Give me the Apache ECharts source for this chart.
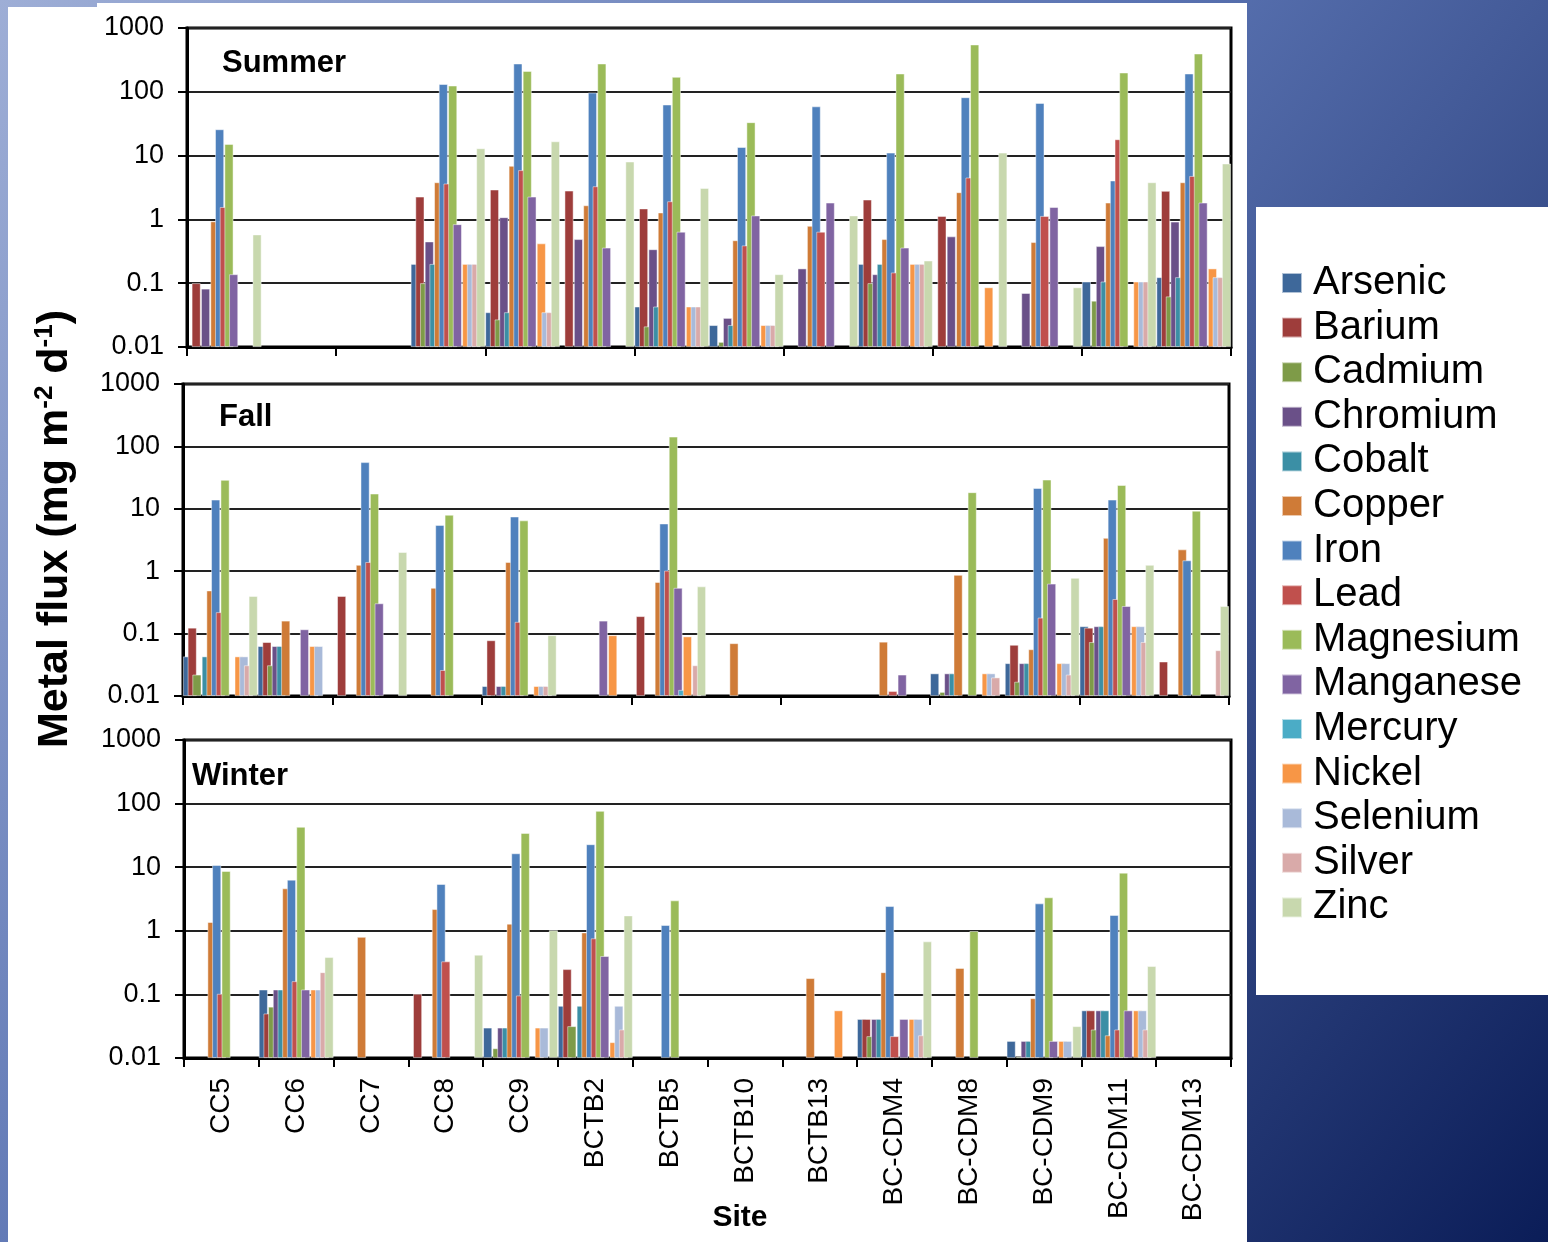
<!DOCTYPE html>
<html>
<head>
<meta charset="utf-8">
<script src="https://cdn.jsdelivr.net/npm/echarts@6/dist/echarts.min.js"></script>
<style>
  html, body { margin: 0; padding: 0; }
  #chart { width: 1548px; height: 1242px; }
</style>
</head>
<body>
<div id="chart"></div>
<script>
const n = null;

const sites = ['CC5', 'CC6', 'CC7', 'CC8', 'CC9', 'BCTB2', 'BCTB5', 'BCTB10', 'BCTB13',
  'BC-CDM4', 'BC-CDM8', 'BC-CDM9', 'BC-CDM11', 'BC-CDM13'];
const metals = ['Arsenic', 'Barium', 'Cadmium', 'Chromium', 'Cobalt', 'Copper', 'Iron', 'Lead',
  'Magnesium', 'Manganese', 'Mercury', 'Nickel', 'Selenium', 'Silver', 'Zinc'];
const yTicks = [0.01, 0.1, 1, 10, 100, 1000];

// Summer flux, mg m-2 d-1, one value per site (null = not detected)
const arsenicSummer   = [n, n, n, 0.2, 0.035, n, 0.043, 0.022, n, 0.2, n, n, 0.106, 0.124];
const bariumSummer    = [0.1, n, n, 2.27, 2.93, 2.82, 1.48, n, n, 2.04, 1.13, n, n, 2.79];
const cadmiumSummer   = [n, n, n, 0.1, 0.027, n, 0.021, 0.012, n, 0.1, n, n, 0.053, 0.062];
const chromiumSummer  = [0.082, n, n, 0.45, 1.08, 0.49, 0.34, 0.0285, 0.17, 0.138, 0.54, 0.07, 0.38, 0.92];
const cobaltSummer    = [n, n, n, 0.2, 0.035, n, 0.043, 0.022, n, 0.2, n, n, 0.106, 0.124];
const copperSummer    = [0.93, n, n, 3.81, 6.9, 1.66, 1.28, 0.47, 0.79, 0.49, 2.66, 0.44, 1.83, 3.81];
const ironSummer      = [25.8, n, n, 132, 277, 97, 63, 13.6, 59, 11.1, 82, 66.7, 4.06, 193];
const leadSummer      = [1.56, n, n, 3.64, 5.9, 3.3, 1.92, 0.39, 0.64, 0.147, 4.52, 1.13, 18, 4.78];
const magnesiumSummer = [15.2, n, n, 125, 212, 277, 171, 33.3, n, 193, 550, n, 200, 397];
const manganeseSummer = [0.138, n, n, 0.84, 2.27, 0.36, 0.64, 1.15, 1.83, 0.36, n, 1.56, n, 1.83];
const mercurySummer   = [n, n, n, n, n, n, n, n, n, n, n, n, n, n];
const nickelSummer    = [n, n, n, 0.2, 0.42, n, 0.043, 0.022, n, 0.2, 0.086, n, 0.106, 0.17];
const seleniumSummer  = [n, n, n, 0.2, 0.035, n, 0.043, 0.022, n, 0.2, n, n, 0.106, 0.124];
const silverSummer    = [n, n, n, 0.2, 0.035, n, 0.043, 0.022, n, 0.2, n, n, 0.106, 0.124];
const zincSummer      = [0.58, n, n, 13, 16.7, 8.05, 3.1, 0.138, 1.15, 0.226, 11.1, 0.086, 3.81, 7.5];

// Fall flux
const arsenicFall   = [0.043, 0.063, n, n, 0.0144, n, n, n, n, n, 0.023, 0.0335, 0.131, n];
const bariumFall    = [0.124, 0.073, 0.4, n, 0.078, n, 0.19, n, n, n, n, 0.066, 0.124, 0.0356];
const cadmiumFall   = [0.022, 0.031, n, n, n, n, n, n, n, n, 0.0116, 0.0169, 0.073, n];
const chromiumFall  = [n, 0.063, n, n, 0.0144, n, n, n, n, n, 0.023, 0.0335, 0.131, n];
const cobaltFall    = [0.043, 0.063, n, n, 0.0144, n, n, n, n, n, 0.023, 0.0335, 0.131, n];
const copperFall    = [0.49, 0.161, 1.26, 0.54, 1.4, n, 0.67, 0.07, n, 0.074, 0.87, 0.056, 3.41, 2.23];
const ironFall      = [14, n, 55.8, 5.5, 7.5, n, 5.8, n, n, n, n, 21.5, 14, 1.49];
const leadFall      = [0.22, n, 1.4, 0.026, 0.154, n, 1.02, n, n, 0.012, n, 0.18, 0.357, n];
const magnesiumFall = [29, n, 17.5, 8.0, 6.5, n, 143, n, n, n, 18.4, 29.3, 24, 9.3];
const manganeseFall = [n, 0.117, 0.305, n, n, 0.161, 0.54, n, n, 0.022, n, 0.63, 0.276, n];
const mercuryFall   = [n, n, n, n, n, n, 0.0125, n, n, n, n, n, n, n];
const nickelFall    = [0.043, 0.063, n, n, 0.0144, 0.094, 0.09, n, n, n, 0.023, 0.0335, 0.131, n];
const seleniumFall  = [0.043, 0.063, n, n, 0.0144, n, n, n, n, n, 0.023, 0.0335, 0.131, n];
const silverFall    = [0.031, n, n, n, 0.0144, n, 0.031, n, n, n, 0.0198, 0.022, 0.073, 0.054];
const zincFall      = [0.4, n, 2.02, n, 0.094, n, 0.57, n, n, n, n, 0.78, 1.26, 0.276];

// Winter flux
const arsenicWinter   = [n, 0.119, n, n, 0.03, 0.066, n, n, n, 0.041, n, 0.0185, 0.056, n];
const bariumWinter    = [n, 0.05, n, 0.102, n, 0.249, n, n, n, 0.041, n, n, 0.056, n];
const cadmiumWinter   = [n, 0.064, n, n, 0.0142, 0.0316, n, n, n, 0.022, n, 0.0105, 0.028, n];
const chromiumWinter  = [n, 0.119, n, n, 0.03, n, n, n, n, 0.041, n, 0.0185, 0.056, n];
const cobaltWinter    = [n, 0.119, n, n, 0.03, 0.066, n, n, n, 0.041, n, 0.0185, 0.056, n];
const copperWinter    = [1.37, 4.64, 0.8, 2.19, 1.29, 0.94, n, n, 0.18, 0.223, 0.26, 0.087, 0.0227, n];
const ironWinter      = [10.8, 6.35, n, 5.43, 16.5, 22.9, 1.23, n, n, 2.44, n, 2.69, 1.77, n];
const leadWinter      = [0.102, 0.161, n, 0.33, 0.096, 0.76, n, n, n, 0.022, n, n, 0.028, n];
const magnesiumWinter = [8.7, 43, n, n, 34.5, 76.6, 3.0, n, n, n, 0.99, 3.35, 8.18, n];
const manganeseWinter = [n, 0.119, n, n, n, 0.4, n, n, n, 0.041, n, 0.0185, 0.056, n];
const mercuryWinter   = [n, n, n, n, n, n, n, n, n, n, n, n, n, n];
const nickelWinter    = [n, 0.119, n, n, 0.03, 0.0177, n, n, 0.056, 0.041, n, 0.0185, 0.056, n];
const seleniumWinter  = [n, 0.119, n, n, 0.03, 0.066, n, n, n, 0.041, n, 0.0185, 0.056, n];
const silverWinter    = [n, 0.223, n, n, n, 0.028, n, n, n, 0.0227, n, n, 0.028, n];
const zincWinter      = [n, 0.385, n, 0.42, 1.02, 1.74, n, n, n, 0.68, n, 0.0316, 0.278, n];

const summerValues = [arsenicSummer, bariumSummer, cadmiumSummer, chromiumSummer, cobaltSummer,
  copperSummer, ironSummer, leadSummer, magnesiumSummer, manganeseSummer, mercurySummer,
  nickelSummer, seleniumSummer, silverSummer, zincSummer];
const fallValues = [arsenicFall, bariumFall, cadmiumFall, chromiumFall, cobaltFall,
  copperFall, ironFall, leadFall, magnesiumFall, manganeseFall, mercuryFall,
  nickelFall, seleniumFall, silverFall, zincFall];
const winterValues = [arsenicWinter, bariumWinter, cadmiumWinter, chromiumWinter, cobaltWinter,
  copperWinter, ironWinter, leadWinter, magnesiumWinter, manganeseWinter, mercuryWinter,
  nickelWinter, seleniumWinter, silverWinter, zincWinter];

const metalColors = ['#3e689a', '#9e3d3b', '#7e9b48', '#6a5088', '#3b8fa5', '#cf7b37',
  '#4f81bd', '#c0504d', '#9bbb59', '#8064a2', '#4bacc6', '#f79646',
  '#a9bad9', '#d9aaa9', '#c8d8ae'];

const FONT = '"Liberation Sans", Arial, Helvetica, sans-serif';

// Plot panels: one per season
const panels = [
  { title: 'Summer', values: summerValues, left: 187, top: 28, width: 1044, height: 319, tx: 222, ty: 63 },
  { title: 'Fall',   values: fallValues,   left: 183, top: 384, width: 1046, height: 312, tx: 219, ty: 417 },
  { title: 'Winter', values: winterValues, left: 184, top: 740, width: 1047, height: 318, tx: 192, ty: 776 }
];

const grids = [], xAxes = [], yAxes = [], series = [];
panels.forEach((p, gi) => {
  grids.push({
    left: p.left, top: p.top, width: p.width, height: p.height,
    show: true, borderColor: '#000', borderWidth: 3, backgroundColor: 'transparent'
  });
  xAxes.push({
    type: 'category', gridIndex: gi, data: sites, boundaryGap: true,
    axisLine: { show: true, lineStyle: { color: '#000', width: 3 } },
    axisTick: { show: true, inside: false, length: 9, lineStyle: { color: '#000', width: 2 } },
    axisLabel: gi === 2 ? {
      show: true, rotate: 90, interval: 0, fontSize: 28, color: '#000',
      fontFamily: FONT, margin: 20
    } : { show: false },
    splitLine: { show: false }
  });
  yAxes.push({
    type: 'log', gridIndex: gi, logBase: 10, min: yTicks[0], max: yTicks[yTicks.length - 1],
    startValue: yTicks[0],
    axisLine: { show: true, lineStyle: { color: '#000', width: 3 } },
    axisTick: { show: true, inside: false, length: 9, lineStyle: { color: '#000', width: 2 } },
    axisLabel: {
      show: true, fontSize: 27, color: '#000', fontFamily: FONT, margin: 23,
      formatter: v => String(parseFloat(Number(v).toPrecision(4)))
    },
    splitLine: { show: true, lineStyle: { color: '#222', width: 2 } }
  });
  metals.forEach((m, k) => {
    series.push({
      type: 'bar', name: m, xAxisIndex: gi, yAxisIndex: gi,
      data: p.values[k],
      barGap: '-48%', barCategoryGap: 0,
      itemStyle: { color: metalColors[k], borderColor: 'rgba(255,255,255,0.6)', borderWidth: 0.8 },
      emphasis: { disabled: true },
      silent: true
    });
  });
});

const graphics = [
  // white page areas over the blue backdrop
  { type: 'rect', z: -10, silent: true, shape: { x: 8, y: 7, width: 1239, height: 1235 }, style: { fill: '#fff' } },
  { type: 'rect', z: -10, silent: true, shape: { x: 97, y: 3, width: 1150, height: 1239 }, style: { fill: '#fff' } },
  { type: 'rect', z: -10, silent: true, shape: { x: 1256, y: 207, width: 292, height: 788 }, style: { fill: '#fff' } },
  // axis titles
  {
    type: 'text', z: 100, x: 55, y: 529, rotation: Math.PI / 2,
    style: {
      text: '{b|Metal flux (mg m}{s|-2}{b| d}{s|-1}{b|)}',
      align: 'center', verticalAlign: 'middle',
      rich: {
        b: { fontSize: 43, fontWeight: 'bold', fontFamily: FONT, fill: '#000', lineHeight: 46 },
        s: { fontSize: 26, fontWeight: 'bold', fontFamily: FONT, fill: '#000', verticalAlign: 'top', lineHeight: 46 }
      }
    }
  },
  {
    type: 'text', z: 100, x: 740, y: 1218,
    style: { text: 'Site', fontSize: 30, fontWeight: 'bold', fontFamily: FONT, fill: '#000',
      align: 'center', verticalAlign: 'middle' }
  }
];
panels.forEach(p => {
  graphics.push({
    type: 'text', z: 100, x: p.tx, y: p.ty,
    style: { text: p.title, fontSize: 31, fontWeight: 'bold', fontFamily: FONT, fill: '#000',
      align: 'left', verticalAlign: 'middle' }
  });
});

const chart = echarts.init(document.getElementById('chart'), null, { renderer: 'canvas' });
chart.setOption({
  animation: false,
  backgroundColor: {
    type: 'linear', x: 0, y: 0, x2: 1, y2: 1,
    colorStops: [
      { offset: 0, color: '#9eaed6' },
      { offset: 0.45, color: '#5a73b2' },
      { offset: 1, color: '#0b1d58' }
    ]
  },
  graphic: graphics,
  legend: {
    data: metals, orient: 'vertical', left: 1281, top: 261, padding: 0,
    icon: 'rect', itemWidth: 20, itemHeight: 20, itemGap: 0.6,
    selectedMode: false,
    textStyle: { fontSize: 40, lineHeight: 44, color: '#000', fontFamily: FONT, padding: [0, 0, 0, 6] }
  },
  grid: grids,
  xAxis: xAxes,
  yAxis: yAxes,
  series: series
});
</script>
</body>
</html>
